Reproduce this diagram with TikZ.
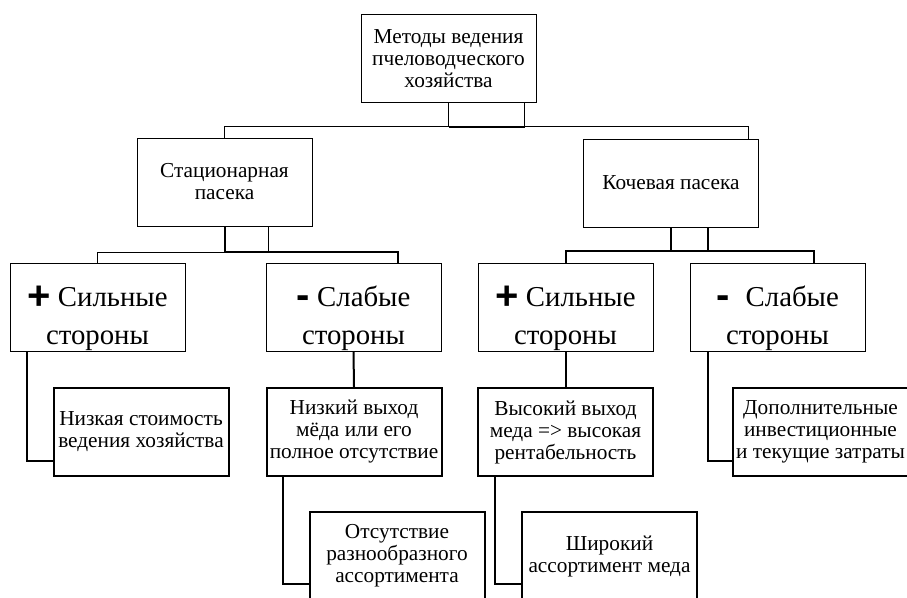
\documentclass[tikz,border=0pt]{standalone}
\usepackage{fontspec}
\setmainfont{Liberation Serif}
\newfontfamily\signfont{Liberation Sans}
\usetikzlibrary{positioning,calc}

\newcommand{\plusmark}{\raisebox{-3.5pt}[0pt][0pt]{\signfont\bfseries\fontsize{40}{40}\selectfont +}}
\newcommand{\minusmark}{\raisebox{-2pt}[0pt][0pt]{\signfont\bfseries\fontsize{40}{40}\selectfont -}}

\begin{document}
\begin{tikzpicture}[
  x=1pt, y=-1pt,
  box/.style={draw, line width=0.9pt, minimum width=175pt, minimum height=88pt,
    inner sep=1pt, align=center, font=\fontsize{21.3}{22}\selectfont},
  side/.style={box, font=\fontsize{28.8}{38}\selectfont},
  leaf/.style={box, line width=2pt, execute at begin node={\rule{0pt}{20pt}}},
  ln/.style={line width=0.9pt},
  thk/.style={line width=2pt}
]
\useasboundingbox (0,0) rectangle (907,597);
\clip (0,0) rectangle (907,597);

% methods and the two kinds of apiary
\node[box] (top)  at (448.5,58.5) {Методы ведения\\пчеловодческого\\хозяйства};
\node[box] (stat) at (224.5,182)  {Стационарная\\пасека};
\node[box] (koch) at (671,183)    {Кочевая пасека};

% strong and weak sides
\node[side] (s1) at (97.5,307.5)  {\rule{0pt}{42pt}\plusmark\ Сильные\\стороны};
\node[side] (w1) at (353.5,307.5) {\rule{0pt}{42pt}\minusmark\ Слабые\\стороны};
\node[side] (s2) at (565.5,307.5) {\rule{0pt}{42pt}\plusmark\ Сильные\\стороны};
\node[side] (w2) at (777.5,307.5) {\rule{0pt}{42pt}\minusmark\hspace{9pt} Слабые\\стороны};

% details
\node[leaf] (l3a) at (141,432)   {Низкая стоимость\\ведения хозяйства};
\node[leaf] (l3b) at (354,432)   {Низкий выход\\мёда или его\\полное отсутствие};
\node[leaf] (l3c) at (397,556)   {Отсутствие\\разнообразного\\ассортимента};
\node[leaf] (l3d) at (565.5,432) {Высокий выход\\меда => высокая\\рентабельность};
\node[leaf] (l3e) at (609.5,556) {Широкий\\ассортимент меда};
\node[leaf] (l3f) at (820.5,432) {Дополнительные\\инвестиционные\\и текущие затраты};

% top level joints
\coordinate (j0) at (448.5,126.5);
\coordinate (k0) at (748,126.5);
\draw[ln] (top.south) -- (j0);
\draw[ln] ($(top.south)+(76,0)$) -- ($(j0)+(76,0)$);
\draw[ln] (stat.north) |- (k0) -- (k0 |- koch.north);
\draw[thk] (j0) -- ($(j0)+(76,0)$);

\coordinate (j1) at (224.5,252);
\coordinate (w1t) at (398,252);
\draw[thk] (stat.south) -- (j1);
\draw[ln] ($(stat.south)+(43.5,0)$) -- ($(j1)+(43.5,0)$);
\draw[ln] (s1.north) |- (j1);
\draw[thk] (j1) -- (w1t) -- (w1t |- w1.north);

\coordinate (j2) at (671,251);
\coordinate (w2t) at (814,251);
\draw[thk] (koch.south) -- (j2);
\draw[thk] ($(koch.south)+(37,0)$) -- ($(j2)+(37,0)$);
\draw[thk] (s2.north) |- (w2t) -- (w2t |- w2.north);

% lower joints
\draw[thk] ($(s1.south)+(-70.5,0)$) |- ($(l3a.south west)+(0,-16)$);
\draw[thk] (w1.south) -- (l3b.north);
\draw[thk] ($(l3b.south west)+(17,0)$) |- ($(l3c.south west)+(0,-17)$);
\draw[thk] (s2.south) -- (l3d.north);
\draw[thk] ($(l3d.south west)+(18,0)$) |- ($(l3e.south west)+(0,-17)$);
\draw[thk] ($(w2.south west)+(18,0)$) |- ($(l3f.south west)+(0,-16)$);
\end{tikzpicture}
\end{document}
